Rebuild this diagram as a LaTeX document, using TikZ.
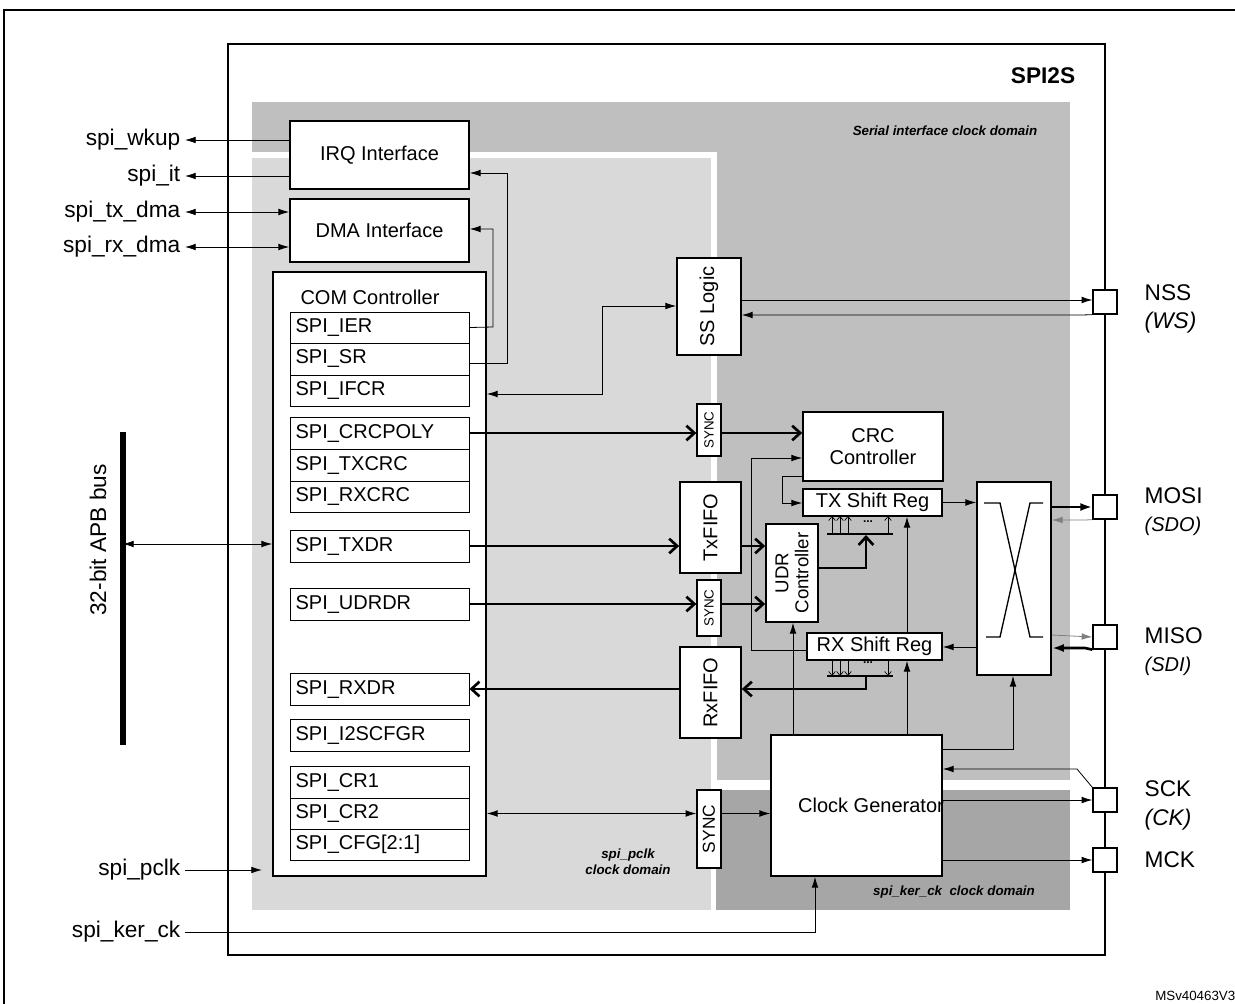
\documentclass[tikz,border=0pt]{standalone}
\usepackage{fontspec}
\setmainfont{Liberation Sans}
\usetikzlibrary{arrows.meta,fit}
\begin{document}
\begin{tikzpicture}[x=0.75pt,y=-0.75pt,
  box/.style={draw,fill=white,line width=1.3pt,inner sep=0pt},
  reg/.style={draw,fill=white,line width=0.7pt,inner sep=0pt},
  lab/.style={font=\fontsize{15}{17}\selectfont},
  pin/.style={font=\fontsize{17}{19}\selectfont},
  dom/.style={font=\bfseries\itshape\fontsize{10}{12}\selectfont,align=center},
  ln/.style={line width=0.6pt},
  th/.style={line width=2pt},
  ar/.style={ln,-{Latex[length=8pt,width=5pt]}},
  dar/.style={ln,{Latex[length=8pt,width=5pt]}-{Latex[length=8pt,width=5pt]}},
  tar/.style={th,-{Straight Barb[length=6pt,width=11pt,line width=2pt]}},
  sar/.style={line width=0.5pt,-{Straight Barb[length=3pt,width=5pt]}},
  grayar/.style={ln,gray,-{Latex[length=8pt,width=5pt]}}]
\useasboundingbox (0,0) rectangle (1235,1003);
\draw[line width=1.8pt] (4,1020) -- (4,10) -- (1250,10);
% SPI2S
\node[fit={(228,44) (1105,955)},inner sep=0pt,draw,line width=2.2pt] (spi) {};
\node[font=\bfseries\fontsize{17}{19}\selectfont] (t) at (1043,76) {SPI2S};
% domains
\fill[gray!50] (252,102) rectangle (1070,780);
\fill[white] (252,152) rectangle (717,910);
\fill[gray!30] (252,158) rectangle (711,910);
\fill[white] (711,780) rectangle (1070,790);
\fill[gray!70] (716,790) rectangle (1070,910);
\node[dom] (d1) at (945,131) {Serial interface clock domain};
\node[dom] (d2) at (628,862) {spi\_pclk\\clock domain};
\node[dom] (d3) at (954,892) {spi\_ker\_ck\ \ clock domain};
% blocks
\node[box,fit={(290,121) (469,189)}] (irq) {};
\node[lab] at (irq.center) {IRQ Interface};
\node[box,fit={(290,199) (469,262)}] (dma) {};
\node[lab] at (dma.center) {DMA Interface};
\node[box,fit={(273,272) (486,876)}] (com) {};
\node[lab] (comt) at (370,297) {COM Controller};
\foreach \n/\t/\a/\b in {ier/SPI\_IER/312/343, sr/SPI\_SR/343/375, ifcr/SPI\_IFCR/375/406,
  crcpoly/SPI\_CRCPOLY/417/449, txcrc/SPI\_TXCRC/449/481, rxcrc/SPI\_RXCRC/481/512,
  txdr/SPI\_TXDR/530/562, udrdr/SPI\_UDRDR/588/620, rxdr/SPI\_RXDR/673/705,
  i2s/SPI\_I2SCFGR/719/751, cr1/SPI\_CR1/766/798, cr2/SPI\_CR2/798/829, cfg/SPI\_CFG[2:1]/829/860}{
  \node[reg,fit={(290,\a) (469,\b)}] (\n) {};
  \node[lab,anchor=west] at ([xshift=1pt]\n.west) {\t};
}
\node[box,fit={(677,258) (741,355)}] (ss) {};
\node[lab,rotate=90] at (ss.center) {SS Logic};
\node[reg,line width=1pt,fit={(697,404) (721,456)}] (sync1) {};
\node[rotate=90,font=\fontsize{10}{12}\selectfont] at (sync1.center) {SYNC};
\node[box,fit={(803,412) (943,481)}] (crc) {};
\node[lab,align=center] at (crc.center) {CRC\\Controller};
\node[box,fit={(680,482) (741,573)}] (txf) {};
\node[lab,rotate=90] at (txf.center) {TxFIFO};
\node[box,fit={(766,524) (818,622)}] (udr) {};
\node[lab,rotate=90,align=center,font=\fontsize{14}{15}\selectfont] at (udr.center) {UDR\\Controller};
\node[box,fit={(803,489) (942,516)}] (txs) {};
\node[lab] at (txs.center) {TX Shift Reg};
\node[box,fit={(807,633) (942,660)}] (rxs) {};
\node[lab] at (rxs.center) {RX Shift Reg};
\node[reg,line width=1pt,fit={(697,580) (721,636)}] (sync2) {};
\node[rotate=90,font=\fontsize{10}{12}\selectfont] at (sync2.center) {SYNC};
\node[box,fit={(680,647) (741,738)}] (rxf) {};
\node[lab,rotate=90] at (rxf.center) {RxFIFO};
\node[box,fit={(977,482) (1051,675)}] (mux) {};
\draw[line width=1pt] (984,503) -- (1000,503) -- (1030,637) -- (1043,637);
\draw[line width=1pt] (1043,503) -- (1030,503) -- (1000,637) -- (986,637);
\node[box,fit={(771,735) (942,876)}] (cg) {};
\node[lab] at (871,805) {Clock Generator};
\node[reg,line width=1pt,fit={(697,790) (721,868)}] (sync3) {};
\node[rotate=90,font=\fontsize{13}{14}\selectfont] at (sync3.center) {SYNC};
% pins
\foreach \n/\y in {nss/302, mosi/507, miso/637, sck/800, mck/860}{
  \node[draw,fill=white,line width=1pt,minimum size=18pt,inner sep=0pt] (\n) at (1105,\y) {};
}
\node[pin,anchor=west] at (1140,293) {NSS};
\node[pin,anchor=west] at (1140,323) {\itshape (WS)};
\node[pin,anchor=west] at (1140,496) {MOSI};
\node[pin,anchor=west,font=\itshape\fontsize{15}{17}\selectfont] at (1140,526) {(SDO)};
\node[pin,anchor=west] at (1140,636) {MISO};
\node[pin,anchor=west,font=\itshape\fontsize{15}{17}\selectfont] at (1140,666) {(SDI)};
\node[pin,anchor=west] at (1140,789) {SCK};
\node[pin,anchor=west] at (1140,820) {\itshape (CK)};
\node[pin,anchor=west] at (1140,860) {MCK};
% left signals
\node[pin,anchor=east] (wk) at (185,140) {spi\_wkup};
\node[pin,anchor=east] (it) at (185,176) {spi\_it};
\node[pin,anchor=east] (tx) at (185,212) {spi\_tx\_dma};
\node[pin,anchor=east] (rx) at (185,247) {spi\_rx\_dma};
\node[pin,anchor=east] (pc) at (185,870) {spi\_pclk};
\node[pin,anchor=east] (kc) at (185,932) {spi\_ker\_ck};
\draw[ar] (irq.west |- wk) -- (wk.east);
\draw[ar] (irq.west |- it) -- (it.east);
\draw[dar] (tx.east) -- (dma.west |- tx);
\draw[dar] (rx.east) -- (dma.west |- rx);
\draw[ar] (pc.east) -- (262,870);
\draw[ar] (kc.east) -- (815,932) -- (cg.south -| 815,0);
% APB bus
\coordinate (b1) at (123,432); \coordinate (b2) at (123,745);
\draw[line width=5pt] (b1) -- (b2);
\node[pin,rotate=90] (apb) at (98,540) {32-bit APB bus};
\draw[dar] (123,544) -- (com.west |- 0,544);
% internal
\draw[ar] (ier.east) -- (493,327) -- (493,229) -- (dma.east |- 0,229);
\draw[ar] (sr.east |- 0,363) -- (507,363) -- (507,173) -- (irq.east |- 0,173);
\draw[dar] (com.east |- 0,394) -- (602,394) -- (602,306) -- (ss.west |- 0,306);
\draw[ar] (ss.east |- 0,300) -- (nss.west |- 0,300);
\draw[ar] (nss.south west) -- (1082,315) -- (ss.east |- 0,315);
\draw[tar] (crcpoly.east) -- (sync1.west |- crcpoly);
\draw[tar] (sync1.east |- crcpoly) -- (crc.west |- crcpoly);
\draw[tar] (txdr.east) -- (txf.west |- txdr);
\draw[tar] (txf.east |- txdr) -- (udr.west |- txdr);
\draw[tar] (udrdr.east) -- (sync2.west |- udrdr);
\draw[tar] (sync2.east |- udrdr) -- (udr.west |- udrdr);
\draw[tar] (rxf.west |- rxdr) -- (rxdr.east);
% bus bars
\draw[th] (827,534) -- (893,534);
\draw[th] (827,676) -- (893,676);
\foreach \x in {832,840,848,888}{
  \draw[sar] (\x,534) -- (\x,516);
  \draw[sar] (\x,660) -- (\x,676);
}
\node[font=\bfseries\fontsize{9}{9}\selectfont] (dd1) at (868,522) {...};
\node[font=\bfseries\fontsize{9}{9}\selectfont] (dd2) at (868,663) {...};
\draw[tar] (udr.east |- 0,568) -- (866,568) -- (866,535);
\draw[tar] (866,677) -- (866,689) -- (rxf.east |- 0,689);
% loops
\draw[ar] (rxs.west |- 0,650) -- (751,650) -- (751,458) -- (crc.west |- 0,458);
\draw[ar] (crc.west |- 0,476) -- (782,476) -- (782,503) -- (txs.west |- 0,503);
\draw[ar] (txs.east) -- (mux.west |- txs);
\draw[ar] (mux.west |- 0,647) -- (rxs.east |- 0,647);
\draw[th,-{Latex[length=9pt,width=6pt]}] (mux.east |- 0,507) -- (mosi.west);
\draw[grayar] (mosi.south west) -- (1085,520) -- (mux.east |- 0,520);
\draw[grayar] (mux.east |- 0,635) -- (mosi.west |- miso);
\draw[th,-{Latex[length=9pt,width=6pt]}] (miso.south west) -- (1085,648) -- (mux.east |- 0,648);
% clock generator
\draw[ar] (cg.north -| 793,0) -- (udr.south -| 793,0);
\draw[ar] (cg.north -| 907,0) -- (rxs.south -| 907,0);
\draw[ar] (rxs.north -| 907,0) -- (txs.south -| 907,0);
\draw[ar] (cg.east |- 0,749) -- (1013,749) -- (mux.south -| 1013,0);
\draw[ar] (sck.north west) -- (1077,769) -- (cg.east |- 0,769);
\draw[ar] (cg.east |- sck) -- (sck.west);
\draw[ar] (cg.east |- mck) -- (mck.west);
\draw[dar] (cr2.east -| com.east) -- (sync3.west |- cr2);
\draw[ar] (sync3.east |- cr2) -- (cg.west |- cr2);
\node[font=\fontsize{10}{12}\selectfont,anchor=south east] (id) at (1240,1005) {MSv40463V3};
\end{tikzpicture}
\end{document}
